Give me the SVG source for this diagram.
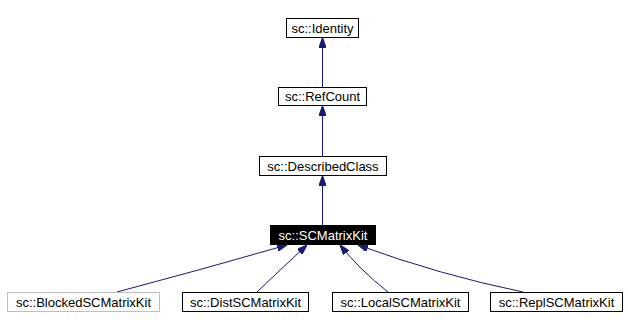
<svg xmlns="http://www.w3.org/2000/svg" width="628" height="332" viewBox="0 0 628 332">
<style>
.box{fill:#fff;stroke:#000;stroke-width:1}
.grey{fill:#fff;stroke:#bfbfbf;stroke-width:1}
.dark{fill:#000;stroke:#000;stroke-width:1}
text{font-family:"Liberation Sans",Arial,Helvetica,sans-serif;font-size:13px;text-anchor:middle;fill:#000}
.w{fill:#fff}
.edge{fill:none;stroke:#191970;stroke-width:1;marker-end:url(#ah)}
</style>
<defs>
<marker id="ah" viewBox="0 0 10 7" refX="10" refY="3.5" markerWidth="10" markerHeight="7" markerUnits="userSpaceOnUse" orient="auto">
<path d="M0,0 L10,3.5 L0,7 z" fill="#191970" stroke="#191970"/>
</marker>
</defs>
<rect width="628" height="332" fill="#fff"/>
<g id="edges">
<path class="edge" d="M322.5,156.5 L322.5,105.5"/>
<path class="edge" d="M322.5,87.5 L322.5,37.5"/>
<path class="edge" d="M322.5,225.5 L322.5,175.5"/>
<path class="edge" d="M117,292 Q200,270 287,245"/>
<path class="edge" d="M257,292 Q280,270 307,245"/>
<path class="edge" d="M388,292 Q360,270 340,245"/>
<path class="edge" d="M523,292 Q440,275 358,245"/>
</g>
<g id="n_identity"><rect class="box" x="286.5" y="18.5" width="72" height="19"/><text x="322.5" y="32.5">sc::Identity</text></g>
<g id="n_refcount"><rect class="box" x="278.5" y="87.5" width="88" height="18"/><text x="322.5" y="101">sc::RefCount</text></g>
<g id="n_described"><rect class="box" x="259.5" y="156.5" width="127" height="19"/><text x="323" y="170.5">sc::DescribedClass</text></g>
<g id="n_scmatrixkit"><rect class="dark" x="270.5" y="225.5" width="105" height="19"/><text class="w" x="323" y="239.5">sc::SCMatrixKit</text></g>
<g id="n_blocked"><rect class="grey" x="7.5" y="292.5" width="152" height="19"/><text x="83.5" y="306.5">sc::BlockedSCMatrixKit</text></g>
<g id="n_dist"><rect class="box" x="182.5" y="292.5" width="126" height="19"/><text x="245.5" y="306.5">sc::DistSCMatrixKit</text></g>
<g id="n_local"><rect class="box" x="332.5" y="292.5" width="136" height="19"/><text x="400.5" y="306.5">sc::LocalSCMatrixKit</text></g>
<g id="n_repl"><rect class="box" x="490.5" y="292.5" width="132" height="19"/><text x="556.5" y="306.5">sc::ReplSCMatrixKit</text></g>
</svg>
